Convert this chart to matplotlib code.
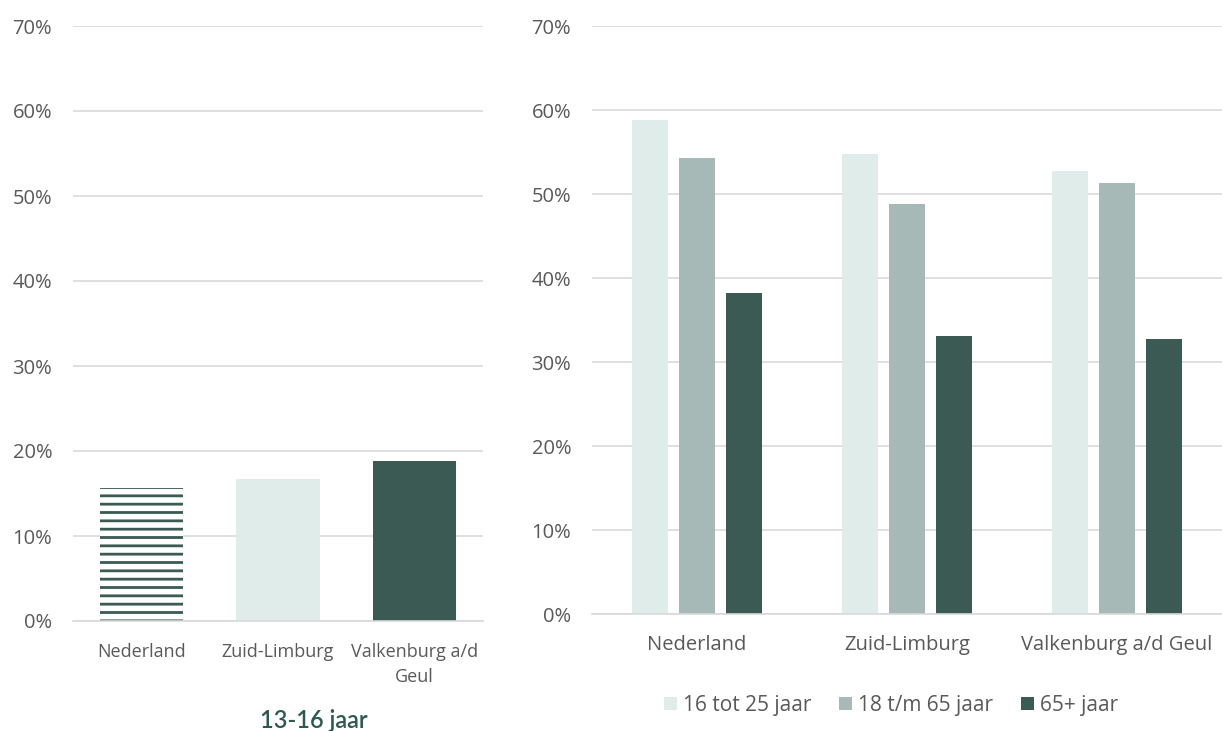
import matplotlib
matplotlib.use("Agg")
import matplotlib.pyplot as plt
import numpy as np

# data
regions = ["Nederland", "Zuid-Limburg", "Valkenburg a/d Geul"]
left_labels = ["Nederland", "Zuid-Limburg", "Valkenburg a/d\nGeul"]
left_values = [15.6, 16.7, 18.8]          # 13-16 jaar
series_names = ["16 tot 25 jaar", "18 t/m 65 jaar", "65+ jaar"]
v_16_25 = [58.8, 54.8, 52.7]
v_18_65 = [54.3, 48.8, 51.3]
v_65plus = [38.2, 33.1, 32.7]
yticks = [0, 10, 20, 30, 40, 50, 60, 70]
left_title = "13-16 jaar"

LIGHT = "#e0ece9"
MID = "#a6b9b6"
DARK = "#3a5a53"
TEXT = "#595959"
GRID = "#d9d9d9"

plt.rcParams["font.family"] = ["Open Sans", "DejaVu Sans"]
plt.rcParams["hatch.linewidth"] = 2.0

fig = plt.figure(figsize=(12.22, 7.31), dpi=100)
W, H = 1222, 731


def style(ax, fs_y, fs_x, ypad, xpad):
    ax.set_ylim(0, 70)
    ax.set_xlim(-0.5, 2.5)
    ax.set_yticks(yticks)
    ax.set_yticklabels([f"{t}%" for t in yticks], fontsize=fs_y, color=TEXT)
    ax.yaxis.grid(True, color=GRID, linewidth=1.2)
    ax.set_axisbelow(True)
    for s in ["left", "right", "top"]:
        ax.spines[s].set_visible(False)
    ax.spines["bottom"].set_color(GRID)
    ax.spines["bottom"].set_linewidth(1.2)
    ax.tick_params(axis="y", length=0, pad=ypad)
    ax.tick_params(axis="x", length=0, pad=xpad, labelsize=fs_x, labelcolor=TEXT)


# left panel
ax1 = fig.add_axes([73 / W, (H - 621) / H, 410 / W, 595 / H])
x = np.arange(len(regions))
bars = ax1.bar(x, left_values, width=0.61, color=[DARK, LIGHT, DARK])
bars[0].set_facecolor("white")
bars[0].set_hatch("--")
bars[0].set_edgecolor(DARK)
bars[0].set_linewidth(0)
style(ax1, 14.5, 13, 15, 16)
ax1.set_xticks(x)
ax1.set_xticklabels(left_labels, linespacing=1.5)
fig.text(314 / W, 1 - 720 / H, left_title, ha="center", va="center",
         fontsize=17, color="#2f5a50", fontweight="semibold",
         family=["Lato", "DejaVu Sans"])

# right panel
ax2 = fig.add_axes([592 / W, (H - 614) / H, 630 / W, 588 / H])
step = 0.224
bw = 0.171
for i, (vals, col) in enumerate(zip([v_16_25, v_18_65, v_65plus], [LIGHT, MID, DARK])):
    ax2.bar(x + (i - 1) * step, vals, width=bw, color=col, label=series_names[i])
style(ax2, 14.5, 14.5, 15, 15)
ax2.set_xticks(x)
ax2.set_xticklabels(regions)

leg = fig.legend(loc="center", bbox_to_anchor=(891 / W, 1 - 705 / H), ncol=3,
                 frameon=False, fontsize=15, handlelength=0.6, handleheight=0.6,
                 handletextpad=0.3, columnspacing=1.35, labelcolor=TEXT,
                 handles=ax2.get_legend_handles_labels()[0])

fig.savefig("out.png", dpi=100)
